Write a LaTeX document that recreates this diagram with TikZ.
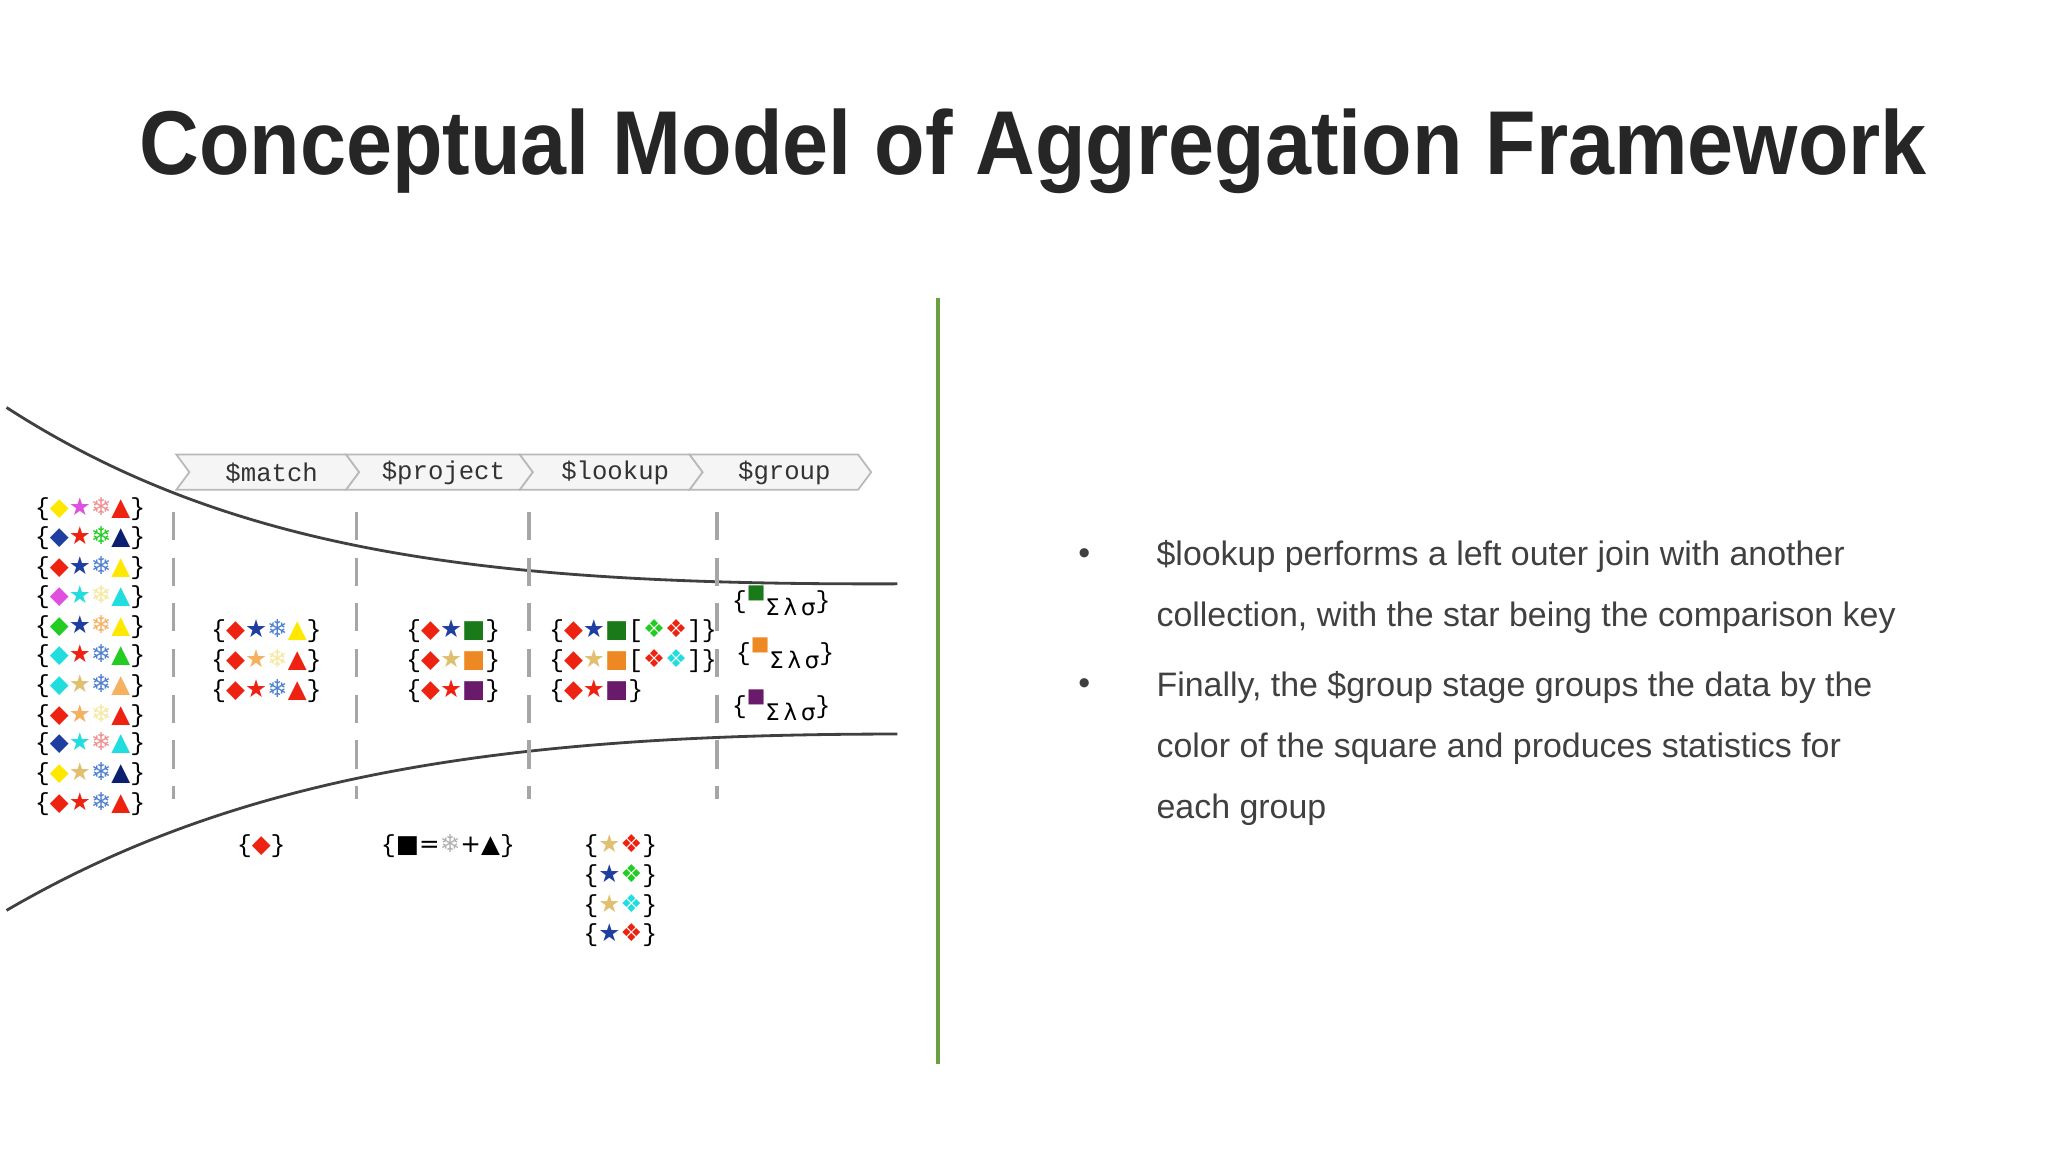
\documentclass[tikz,border=0pt]{standalone}
\usepackage{fontspec}
\setmainfont{Liberation Sans}
\setmonofont{Liberation Mono}
\newfontfamily\symf{DejaVu Sans}
\usetikzlibrary{calc}
\definecolor{cR}{HTML}{EE2211}
\definecolor{cB}{HTML}{1F3FA0}
\definecolor{cN}{HTML}{0A1F70}
\definecolor{cY}{HTML}{FFE800}
\definecolor{cV}{HTML}{E050E0}
\definecolor{cP}{HTML}{F09090}
\definecolor{cG}{HTML}{22CC22}
\definecolor{cC}{HTML}{22DDDD}
\definecolor{cT}{HTML}{E0C070}
\definecolor{cLO}{HTML}{F5B060}
\definecolor{cPY}{HTML}{F5E8A0}
\definecolor{cO}{HTML}{EE8822}
\definecolor{cDG}{HTML}{1A7A1A}
\definecolor{cPu}{HTML}{6A1A6A}
\definecolor{cLB}{HTML}{5080D0}
\definecolor{titlec}{HTML}{262626}
\definecolor{textc}{HTML}{404040}
\definecolor{vline}{HTML}{6AA040}
\newcommand\dia[1]{{\symf\textcolor{#1}{◆}}}
\newcommand\sta[1]{{\symf\textcolor{#1}{★}}}
\newcommand\fla[1]{{\symf\textcolor{#1}{❄}}}
\newcommand\tri[1]{{\symf\textcolor{#1}{▲}}}
\newcommand\squ[1]{{\symf\textcolor{#1}{■}}}
\newcommand\fou[1]{{\symf\textcolor{#1}{❖}}}
\newcommand\lb{{\ttfamily\{}}
\newcommand\rb{{\ttfamily\}}}
\begin{document}
\begin{tikzpicture}[x=0.013061cm,y=-0.013061cm,
  rowt/.style={inner sep=0pt,font=\fontsize{7}{8}\selectfont},
  hdr/.style={font=\ttfamily\fontsize{7.3}{8}\selectfont,text=black!80},
  chev/.style={fill=gray!8,draw=gray!55,line width=0.5pt},
  dashln/.style={draw=gray!70,line width=0.9pt,dash pattern=on 8pt off 5pt},
  curve/.style={draw=black!75,line width=0.8pt},
  bul/.style={anchor=west,font=\fontsize{9.65}{11}\selectfont,text=textc,inner sep=0pt}]
\useasboundingbox (0,0) rectangle (1568,882);
\fill[white] (0,0) rectangle (1568,882);
\node[font=\bfseries\fontsize{25.8}{30}\selectfont,text=titlec] (title) at (791,116) {\scalebox{0.912}[1]{Conceptual Model of Aggregation Framework}};
\coordinate (vt) at (718,228); \coordinate (vb) at (718,815);
\draw[vline,line width=1.2pt] (vt) -- (vb);
% curves
\coordinate (t0) at (5,312); \coordinate (t1) at (687,447);
\coordinate (b0) at (5,697); \coordinate (b1) at (687,562);
\draw[curve] (t0) .. controls (180,425) and (380,448) .. (t1);
\draw[curve] (b0) .. controls (180,595) and (380,562) .. (b1);
% header chevrons
\foreach \a/\b/\t [count=\i] in {135/265/\$match,265/398/\$project,398/528/\$lookup,528/657/\$group}{
  \draw[chev] (\a,348) -- (\b,348) -- (\b+10,361.5) -- (\b,375) -- (\a,375) -- (\a+10,361.5) -- cycle;
  \node[hdr] (h\i) at ({(\a+\b)/2+8},362) {\t};
}
% dashed lines
\foreach \x [count=\i] in {133,273,405,549}{
  \coordinate (dt\i) at (\x,392); \coordinate (db\i) at (\x,612);
  \draw[dashln] (dt\i) -- (db\i);
}
% left column
\foreach \y/\r [count=\i] in {
390/{\dia{cY}\sta{cV}\fla{cP}\tri{cR}},
412/{\dia{cB}\sta{cR}\fla{cG}\tri{cN}},
435/{\dia{cR}\sta{cB}\fla{cLB}\tri{cY}},
457/{\dia{cV}\sta{cC}\fla{cPY}\tri{cC}},
480/{\dia{cG}\sta{cB}\fla{cLO}\tri{cY}},
502/{\dia{cC}\sta{cR}\fla{cLB}\tri{cG}},
525/{\dia{cC}\sta{cT}\fla{cLB}\tri{cLO}},
548/{\dia{cR}\sta{cLO}\fla{cPY}\tri{cR}},
570/{\dia{cB}\sta{cC}\fla{cP}\tri{cC}},
593/{\dia{cY}\sta{cT}\fla{cLB}\tri{cN}},
616/{\dia{cR}\sta{cR}\fla{cLB}\tri{cR}}}{
  \node[rowt] (l\i) at (69,\y) {\lb\r\rb};
}
% match
\node[rowt] (m1) at (204,483) {\lb\dia{cR}\sta{cB}\fla{cLB}\tri{cY}\rb};
\node[rowt] (m2) at (204,506) {\lb\dia{cR}\sta{cLO}\fla{cPY}\tri{cR}\rb};
\node[rowt] (m3) at (204,529) {\lb\dia{cR}\sta{cR}\fla{cLB}\tri{cR}\rb};
% project
\node[rowt] (p1) at (347,483) {\lb\dia{cR}\sta{cB}\squ{cDG}\rb};
\node[rowt] (p2) at (347,506) {\lb\dia{cR}\sta{cT}\squ{cO}\rb};
\node[rowt] (p3) at (347,529) {\lb\dia{cR}\sta{cR}\squ{cPu}\rb};
% lookup
\node[rowt,anchor=west] (k1) at (420,483) {\lb\dia{cR}\sta{cB}\squ{cDG}{\ttfamily[}\fou{cG}\fou{cR}{\ttfamily]}\rb};
\node[rowt,anchor=west] (k2) at (420,506) {\lb\dia{cR}\sta{cT}\squ{cO}{\ttfamily[}\fou{cR}\fou{cC}{\ttfamily]}\rb};
\node[rowt,anchor=west] (k3) at (420,529) {\lb\dia{cR}\sta{cR}\squ{cPu}\rb};
% group
\foreach \y/\c/\dx [count=\i] in {460/cDG/0,500/cO/3,540/cPu/0}{
  \node[rowt,anchor=west] (g\i) at (560+\dx,\y) {\lb\raisebox{3pt}{\scalebox{0.8}{\squ{\c}}}\raisebox{-2pt}{{\symf\fontsize{6.5}{7}\selectfont Σ\,λ\,σ}}\rb};
}
% below
\node[rowt] (e1) at (200,648) {\lb\dia{cR}\rb};
\node[rowt] (e2) at (343,648) {\lb\squ{black}{\symf=}\fla{gray!60}{\symf+}\tri{black}\rb};
\node[rowt] (f1) at (475,648) {\lb\sta{cT}\fou{cR}\rb};
\node[rowt] (f2) at (475,671) {\lb\sta{cB}\fou{cG}\rb};
\node[rowt] (f3) at (475,694) {\lb\sta{cT}\fou{cC}\rb};
\node[rowt] (f4) at (475,716) {\lb\sta{cB}\fou{cR}\rb};
% bullets
\node[bul] (d1) at (825,426) {•};
\node[bul] (d2) at (825,526) {•};
\node[bul] (b1t) at (885,426) {\$lookup performs a left outer join with another};
\node[bul] (b2t) at (885,473) {collection, with the star being the comparison key};
\node[bul] (b3t) at (885,526) {Finally, the \$group stage groups the data by the};
\node[bul] (b4t) at (885,573) {color of the square and produces statistics for};
\node[bul] (b5t) at (885,620) {each group};
\end{tikzpicture}
\end{document}
